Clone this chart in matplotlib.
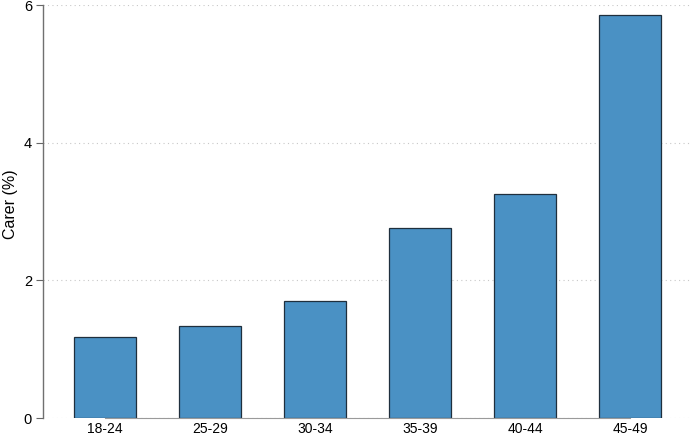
import matplotlib
matplotlib.use("Agg")
import matplotlib.pyplot as plt

categories = ["18-24", "25-29", "30-34", "35-39", "40-44", "45-49"]
values = [1.18, 1.34, 1.70, 2.76, 3.26, 5.86]
yticks = [0, 2, 4, 6]

plt.rcParams['font.family'] = ['Liberation Sans', 'DejaVu Sans']

fig = plt.figure(figsize=(6.91, 4.37), dpi=100)
ax = fig.add_axes([43/691, 1-418/437, 1-43/691, (418-5)/437])

x = list(range(len(categories)))
ax.bar(x, values, width=0.59, color="#4a91c4", edgecolor="#1f2f3d", linewidth=0.9, zorder=3)

ax.set_ylim(0, 6)
ax.set_xlim(-0.59, 5.58)
ax.set_yticks(yticks)
ax.set_yticklabels([str(t) for t in yticks], fontsize=10.5)
ax.set_xticks(x)
ax.set_xticklabels(categories, fontsize=10)
ax.tick_params(axis='x', length=0, pad=3)
ax.tick_params(axis='y', length=5, width=0.8, color="#666666", pad=3)

for t in yticks:
    ax.axhline(t, color="#c8c8c8", linestyle=(0, (1, 3)), linewidth=0.8, zorder=1)

for s in ['top', 'right']:
    ax.spines[s].set_visible(False)
ax.spines['left'].set_color("#707070")
ax.spines['left'].set_linewidth(1.0)
ax.spines['bottom'].set_color("#9a9a9a")
ax.spines['bottom'].set_linewidth(0.8)
ax.spines['bottom'].set_bounds(0, 5)
ax.spines['bottom'].set_zorder(4)

ax.set_ylabel("Carer (%)", fontsize=11.5)
ax.yaxis.set_label_coords(-0.038, 0.518)

fig.savefig("out.png", dpi=100)
